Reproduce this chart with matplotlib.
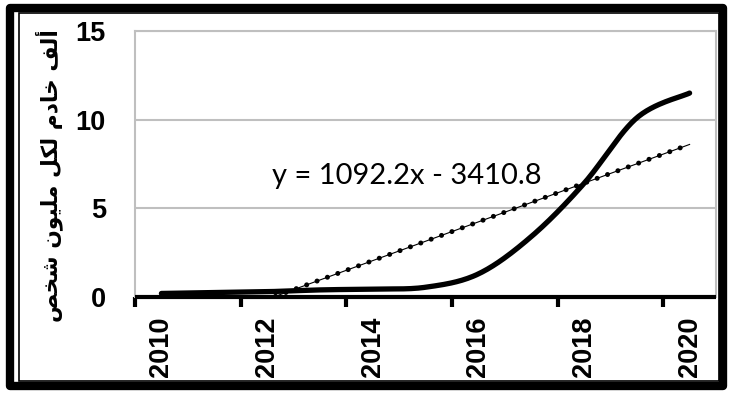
import matplotlib.pyplot as plt
from matplotlib.patches import Rectangle
import numpy as np

# data
years = [2010, 2011, 2012, 2013, 2014, 2015, 2016, 2017, 2018, 2019, 2020]
servers = [0.2, 0.25, 0.3, 0.4, 0.45, 0.55, 1.3, 3.4, 6.4, 10.1, 11.5]
trend_slope = 1092.2
trend_icept = -3410.8
trend_label = "y = 1092.2x - 3410.8"
ylabel_ar = "ألف خادم لكل مليون شخص"
yticks = [0, 5, 10, 15]
xlabels = [2010, 2012, 2014, 2016, 2018, 2020]

# arabic presentation forms: (isolated, final, initial, medial)
FORMS = {
    'ا': ('\uFE8D', '\uFE8E', None, None),
    'أ': ('\uFE83', '\uFE84', None, None),
    'د': ('\uFEA9', '\uFEAA', None, None),
    'و': ('\uFEED', '\uFEEE', None, None),
    'خ': ('\uFEA5', '\uFEA6', '\uFEA7', '\uFEA8'),
    'ش': ('\uFEB5', '\uFEB6', '\uFEB7', '\uFEB8'),
    'ص': ('\uFEB9', '\uFEBA', '\uFEBB', '\uFEBC'),
    'ف': ('\uFED1', '\uFED2', '\uFED3', '\uFED4'),
    'ك': ('\uFED9', '\uFEDA', '\uFEDB', '\uFEDC'),
    'ل': ('\uFEDD', '\uFEDE', '\uFEDF', '\uFEE0'),
    'م': ('\uFEE1', '\uFEE2', '\uFEE3', '\uFEE4'),
    'ن': ('\uFEE5', '\uFEE6', '\uFEE7', '\uFEE8'),
    'ي': ('\uFEF1', '\uFEF2', '\uFEF3', '\uFEF4'),
}


def shape_arabic(text):
    out = []
    for i, ch in enumerate(text):
        if ch not in FORMS:
            out.append(ch)
            continue
        prev = text[i - 1] if i > 0 else ''
        nxt = text[i + 1] if i + 1 < len(text) else ''
        jp = prev in FORMS and FORMS[prev][2] is not None
        jn = FORMS[ch][2] is not None and nxt in FORMS
        iso, fin, ini, med = FORMS[ch]
        if jp and jn:
            out.append(med)
        elif jn:
            out.append(ini)
        elif jp:
            out.append(fin)
        else:
            out.append(iso)
    return ''.join(reversed(out))


def smooth(x, y, n=30):
    # excel-like smoothed line (bezier through the points)
    x = np.asarray(x, float)
    y = np.asarray(y, float)
    px, py = [], []
    for i in range(len(x) - 1):
        i0, i3 = max(i - 1, 0), min(i + 2, len(x) - 1)
        c1x = x[i] + (x[i + 1] - x[i0]) / 6
        c1y = y[i] + (y[i + 1] - y[i0]) / 6
        c2x = x[i + 1] - (x[i3] - x[i]) / 6
        c2y = y[i + 1] - (y[i3] - y[i]) / 6
        t = np.linspace(0, 1, n)
        px.extend((1-t)**3*x[i] + 3*(1-t)**2*t*c1x + 3*(1-t)*t**2*c2x + t**3*x[i+1])
        py.extend((1-t)**3*y[i] + 3*(1-t)**2*t*c1y + 3*(1-t)*t**2*c2y + t**3*y[i+1])
    return px, py


fig = plt.figure(figsize=(7.3, 3.95), dpi=100)
ax = fig.add_axes([135/730, (395-297)/395, (716-135)/730, (297-31)/395])

# outer double frame
fig.patches.append(Rectangle((10/730, 9/395), 713/730, 378/395, transform=fig.transFigure,
                             fill=False, ec='black', lw=6, joinstyle='round'))
fig.patches.append(Rectangle((19/730, 14/395), 700/730, 368/395, transform=fig.transFigure,
                             fill=False, ec='black', lw=1.2))

sx, sy = smooth(years, servers)
ax.plot(sx, sy, color='black', lw=3.8, solid_capstyle='round', zorder=3)

# trendline (x = index 1..n, values in thousands)
idx = np.arange(1, len(years) + 1)
ty = (trend_slope * idx + trend_icept) / 1000
ax.plot(years, ty, color='black', lw=0.8, zorder=2)
ax.plot(years, ty, color='black', lw=3.6, linestyle=(0, (0.01, 2.2)),
        dash_capstyle='round', zorder=2)

ax.text(2014.65, 6.8, trend_label, ha='center', va='center', fontsize=21,
        family='Lato')

ax.set_xlim(2009.5, 2020.5)
ax.set_ylim(0, 15)
ax.set_yticks(yticks)
ax.set_yticklabels([str(v) for v in yticks], fontsize=19.5, fontweight='bold',
                   family='Liberation Sans')
ax.tick_params(axis='y', length=0, pad=21)
ax.yaxis.grid(True, color='#BFBFBF', lw=1.5)
ax.set_axisbelow(True)

ax.set_xticks(np.arange(2009.5, 2020.6, 2))
ax.set_xticklabels([])
ax.tick_params(axis='x', which='major', length=7, width=3, color='black')
ax.set_xticks(xlabels, minor=True)
ax.set_xticklabels([str(v) for v in xlabels], minor=True, rotation=90,
                   fontsize=19.5, fontweight='bold', family='Liberation Sans')
ax.tick_params(axis='x', which='minor', length=0, pad=14)

for s in ['left', 'top', 'right']:
    ax.spines[s].set_color('#BFBFBF')
    ax.spines[s].set_linewidth(1.5)
ax.spines['bottom'].set_color('black')
ax.spines['bottom'].set_linewidth(3)
ax.spines['bottom'].set_capstyle('butt')

fig.text(49/730, 1 - 176/395, shape_arabic(ylabel_ar), rotation=90,
         ha='center', va='center', fontsize=15.7, fontweight='bold',
         family='DejaVu Sans')

fig.savefig('out.png', dpi=100)
